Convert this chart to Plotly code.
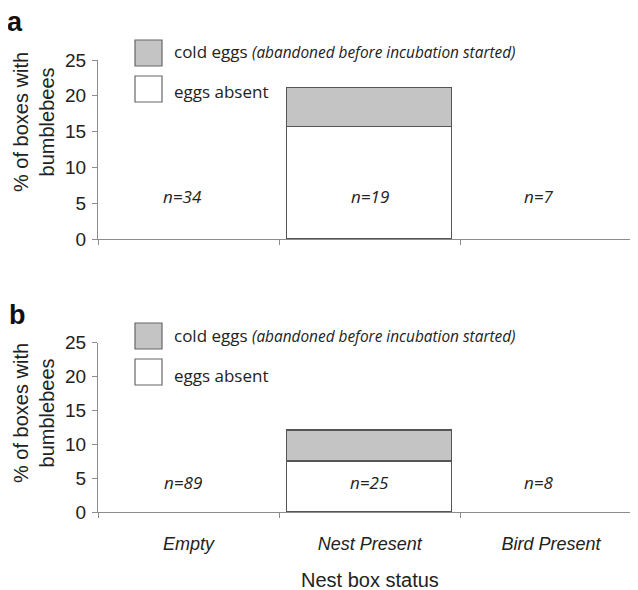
import plotly.graph_objects as go

# ---- data ----
categories = ["Empty", "Nest Present", "Bird Present"]
absent_a = [0, 15.6, 0]
cold_a = [0, 5.45, 0]
absent_b = [0, 7.5, 0]
cold_b = [0, 4.5, 0]
n_a = ["n=34", "n=19", "n=7"]
n_b = ["n=89", "n=25", "n=8"]
y_ticks = [0, 5, 10, 15, 20, 25]
legend_labels = ["cold eggs", "(abandoned before incubation started)", "eggs absent"]
y_title = "% of boxes with<br>bumblebees"
x_title = "Nest box status"

# page body adds an 8px offset; map reference pixels onto the figure
OFF = 8
W, H = 638 - OFF, 590 - OFF
def px(x):
    return (x - OFF) / W
def py(y):
    return 1 - (y - OFF) / H

SANS = "Liberation Sans, Arial, sans-serif"
CAL = "Open Sans, sans-serif"
AX = "#8c8c8c"
EDGE = "#555555"
GREY = "#c4c4c4"

fig = go.Figure()
for absent, cold, xa, ya in [(absent_a, cold_a, "x", "y"), (absent_b, cold_b, "x2", "y2")]:
    for vals, fill in [(absent, "white"), (cold, GREY)]:
        fig.add_trace(go.Bar(x=categories, y=vals, xaxis=xa, yaxis=ya, width=0.91,
                             marker=dict(color=fill,
                                         line=dict(color=EDGE, width=[1.5 if v > 0 else 0 for v in vals])),
                             hoverinfo="skip", showlegend=False))

xcommon = dict(type="category", categoryorder="array", categoryarray=categories,
               range=[-0.5, 2.48], showline=True, linecolor=AX, linewidth=1.2,
               ticks="outside", tickson="boundaries", ticklen=5, tickcolor=AX,
               showgrid=False, zeroline=False, domain=[px(98), 1], automargin=False,
               fixedrange=True)
ycommon = dict(range=[0, 25], tickvals=y_ticks, showline=True, linecolor=AX, linewidth=1.2,
               ticks="outside", ticklen=5, tickcolor=AX, showgrid=False, zeroline=False,
               tickfont=dict(family=SANS, size=19, color="#222"), ticklabelstandoff=2,
               automargin=False, fixedrange=True)

fig.update_layout(
    width=W, height=H, margin=dict(l=0, r=0, t=0, b=0),
    paper_bgcolor="white", plot_bgcolor="white", barmode="stack", bargap=0,
    xaxis=dict(xcommon, anchor="y", showticklabels=False),
    yaxis=dict(ycommon, anchor="x", domain=[py(239), py(60)]),
    xaxis2=dict(xcommon, anchor="y2", showticklabels=True, ticklabelstandoff=15,
                tickvals=categories, ticktext=["<i>%s</i>" % c for c in categories],
                tickfont=dict(family=SANS, size=18, color="#222")),
    yaxis2=dict(ycommon, anchor="x2", domain=[py(512), py(342.5)]),
)

ann = []
shapes = []
C = dict(xanchor="center", yanchor="middle", showarrow=False)
# panel letters
ann.append(dict(C, text="<b>a</b>", x=px(15), y=py(22), xref="paper", yref="paper",
                font=dict(family=SANS, size=27, color="#111")))
ann.append(dict(C, text="<b>b</b>", x=px(17), y=py(315), xref="paper", yref="paper",
                font=dict(family=SANS, size=27, color="#111")))
# y titles
for yc in [122, 413]:
    ann.append(dict(C, text=y_title, x=px(34), y=py(yc), xref="paper", yref="paper",
                    textangle=-90, font=dict(family=SANS, size=20, color="#222")))
# x title
ann.append(dict(C, text=x_title, x=px(370), y=py(580), xref="paper", yref="paper",
                font=dict(family=SANS, size=20, color="#222")))
# n labels
shifts = [-6, 0, -12]
for labels, xa, ya, yv in [(n_a, "x", "y", 5.9), (n_b, "x2", "y2", 4.4)]:
    for c, t, s in zip(categories, labels, shifts):
        ann.append(dict(C, text="<i>%s</i>" % t, x=c, y=yv, xref=xa, yref=ya,
                        xshift=s, font=dict(family=CAL, size=17, color="#222")))
# legends
for top in [40, 323]:
    for fill, y0 in [(GREY, top), ("white", top + 36)]:
        shapes.append(dict(type="rect", xref="paper", yref="paper", x0=px(135), x1=px(162),
                           y0=py(y0 + 26), y1=py(y0), fillcolor=fill,
                           line=dict(color="#666", width=1.2)))
    ann.append(dict(C, text="%s <i><span style='font-size:15.4px'>%s</span></i>" % (legend_labels[0], legend_labels[1]),
                    x=px(172), y=py(top + 12), xref="paper", yref="paper", xanchor="left",
                    font=dict(family=CAL, size=17, color="#222")))
    ann.append(dict(C, text=legend_labels[2], x=px(172), y=py(top + 52), xref="paper", yref="paper",
                    xanchor="left", font=dict(family=CAL, size=17, color="#222")))

fig.update_layout(annotations=ann, shapes=shapes)
fig.write_html("out.html")
